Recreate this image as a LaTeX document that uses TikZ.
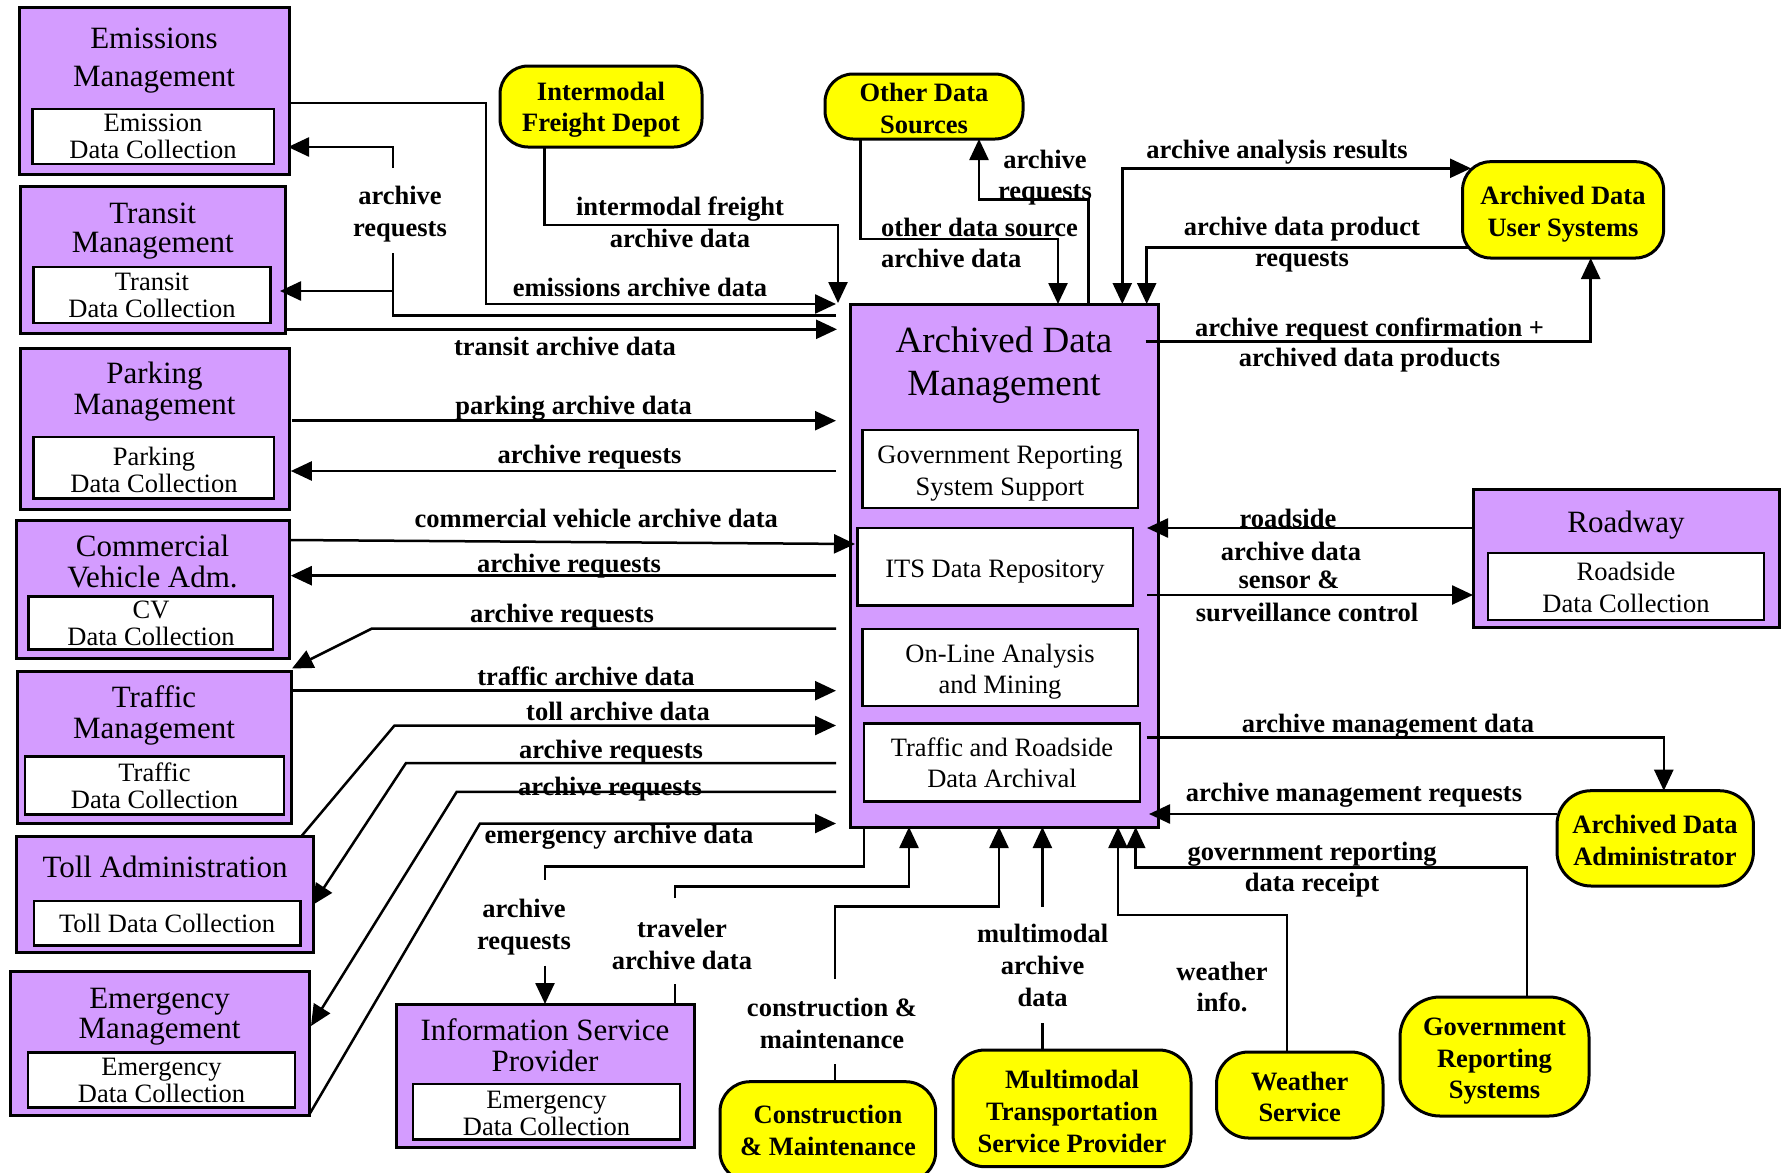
\documentclass[tikz,border=0pt]{standalone}
\usepackage{fontspec}
\setmainfont{Liberation Serif}
\usetikzlibrary{arrows.meta}
\definecolor{boxpurple}{RGB}{212,156,255}
\definecolor{termyellow}{RGB}{255,255,0}

\tikzset{
  pbox/.style={draw, fill=boxpurple, line width=3pt, inner sep=0pt, outer sep=0pt, anchor=north west},
  ibox/.style={draw, fill=white, line width=2.6pt, inner sep=0pt, outer sep=0pt, anchor=north west},
  ybox/.style={draw, fill=termyellow, line width=3pt, inner sep=0pt, outer sep=0pt, anchor=north west, rounded corners=#1},
  ybox/.default=28pt,
  txt/.style 2 args={anchor=north, align=center, inner sep=0pt, font=\fontsize{#1}{#2}\selectfont, yshift={0.7*#2}},
  ttl/.style={txt={31}{#1}},
  ttl/.default=31,
  sub/.style={txt={26.5}{#1}},
  sub/.default=26,
  lbl/.style={anchor=north, align=center, inner sep=0pt, font=\bfseries\fontsize{26.5}{#1}\selectfont, yshift={0.7*#1}},
  lbl/.default=32,
  tip/.style={-{Triangle[length=21pt,width=19pt]}},
  wire/.style={line width=2.5pt},
  flow/.style={wire, tip},
  twoway/.style={wire, {Triangle[length=21pt,width=19pt]}-{Triangle[length=21pt,width=19pt]}},
}

\begin{document}
\begin{tikzpicture}[x=1pt, y=-1pt]
\useasboundingbox (0,0) rectangle (1781,1173);
\clip (0,0) rectangle (1781,1173);
\fill[white] (0,0) rectangle (1781,1173);

% ---------- terminators on the left ----------
\node[pbox, minimum width=270, minimum height=167] (em) at (19,7) {};
\node[ibox, minimum width=241.5, minimum height=55] (emi) at (32.5,109) {};
\node[ttl=38] (emT) at (154,48) {\strut Emissions\\Management};
\node[sub] (emiT) at (153,131.5) {\strut Emission\\Data Collection};

\node[pbox, minimum width=265.5, minimum height=147] (tm) at (20,186) {};
\node[ibox, minimum width=237, minimum height=56] (tmi) at (33.7,267) {};
\node[ttl=29] (tmT) at (152.7,223) {\strut Transit\\Management};
\node[sub] (tmiT) at (152,290.5) {\strut Transit\\Data Collection};

\node[pbox, minimum width=269, minimum height=160.7] (pm) at (20,348.3) {};
\node[ibox, minimum width=240.3, minimum height=61.7] (pmi) at (33.7,437) {};
\node[ttl] (pmT) at (154.5,383) {\strut Parking\\Management};
\node[sub=25.5] (pmiT) at (154,464.5) {\strut Parking\\Data Collection};

\node[pbox, minimum width=273, minimum height=138] (cva) at (16,520.7) {};
\node[ibox, minimum width=244.3, minimum height=52.6] (cvai) at (28.7,596.7) {};
\node[ttl] (cvaT) at (152.5,556) {\strut Commercial\\Vehicle Adm.};
\node[sub] (cvaiT) at (151,618.5) {\strut CV\\Data Collection};

\node[pbox, minimum width=274, minimum height=152.3] (trm) at (17,671) {};
\node[ibox, minimum width=259, minimum height=57.6] (trmi) at (25,756.7) {};
\node[ttl] (trmT) at (154,707) {\strut Traffic\\Management};
\node[sub] (trmiT) at (154.5,780.5) {\strut Traffic\\Data Collection};

\node[pbox, minimum width=296.2, minimum height=116.7] (ta) at (16.8,836) {};
\node[ibox, minimum width=266.5, minimum height=44.7] (tai) at (34,901) {};
\node[ttl] (taT) at (165,877) {\strut Toll Administration};
\node[sub] (taiT) at (167,932.5) {\strut Toll Data Collection};

\node[pbox, minimum width=298.8, minimum height=143.3] (emm) at (10.2,971.7) {};
\node[ibox, minimum width=267, minimum height=55] (emmi) at (28,1052.7) {};
\node[ttl=30] (emmT) at (159.6,1008) {\strut Emergency\\Management};
\node[sub] (emmiT) at (161.5,1075.5) {\strut Emergency\\Data Collection};

\node[pbox, minimum width=297.6, minimum height=143.3] (isp) at (396.4,1004) {};
\node[ibox, minimum width=267, minimum height=55.3] (ispi) at (413,1084) {};
\node[ttl=30] (ispT) at (545,1039) {\strut Information Service\\Provider};
\node[sub=25] (ispiT) at (546.5,1108.5) {\strut Emergency\\Data Collection};

% ---------- central subsystem ----------
\node[pbox, minimum width=308.3, minimum height=523] (adm) at (850,304) {};
\node[txt={37}{43}] (admT) at (1004,352.5) {\strut Archived Data\\Management};
\node[ibox, minimum width=275.3, minimum height=78] (gov) at (862.7,430) {};
\node[sub=32] (govT) at (1000,463.5) {\strut Government Reporting\\System Support};
\node[ibox, minimum width=275.3, minimum height=77.7] (its) at (857.7,528) {};
\node[sub] (itsT) at (995,577.5) {\strut ITS Data Repository};
\node[ibox, minimum width=275.3, minimum height=77] (ola) at (862.7,629) {};
\node[sub=31] (olaT) at (1000,662.5) {\strut On-Line Analysis\\and Mining};
\node[ibox, minimum width=276, minimum height=78] (tra) at (864,723.5) {};
\node[sub=31] (traT) at (1002,756.5) {\strut Traffic and Roadside\\Data Archival};

% ---------- roadway ----------
\node[pbox, minimum width=306, minimum height=137.5] (rw) at (1473,489.5) {};
\node[ibox, minimum width=276, minimum height=67] (rwi) at (1488,553) {};
\node[ttl] (rwT) at (1626,532) {\strut Roadway};
\node[sub=32] (rwiT) at (1626,580.5) {\strut Roadside\\Data Collection};

% ---------- yellow terminators ----------
\node[ybox, minimum width=202, minimum height=81] (ifd) at (500,66) {};
\node[lbl=31] (ifdT) at (601,100.5) {\strut Intermodal\\Freight Depot};
\node[ybox, minimum width=198, minimum height=65] (ods) at (825,74) {};
\node[lbl=32] (odsT) at (924,101.5) {\strut Other Data\\Sources};
\node[ybox, minimum width=201, minimum height=96.3] (adus) at (1462.6,161.7) {};
\node[lbl=31.5] (adusT) at (1563,204.5) {\strut Archived Data\\User Systems};
\node[ybox=34pt, minimum width=196.4, minimum height=95.3] (ada) at (1557,790.7) {};
\node[lbl=31.5] (adaT) at (1655,833.5) {\strut Archived Data\\Administrator};
\node[ybox=30pt, minimum width=215.7, minimum height=100] (cm) at (720,1081.7) {};
\node[lbl=31.5] (cmT) at (828,1123.5) {\strut Construction\\\& Maintenance};
\node[ybox=32pt, minimum width=238, minimum height=116.7] (mtsp) at (953,1050) {};
\node[lbl=31.8] (mtspT) at (1072,1088.5) {\strut Multimodal\\Transportation\\Service Provider};
\node[ybox=32pt, minimum width=166.5, minimum height=86] (ws) at (1216.5,1052) {};
\node[lbl=31] (wsT) at (1299.7,1090) {\strut Weather\\Service};
\node[ybox=40pt, minimum width=189, minimum height=119] (grs) at (1400,997) {};
\node[lbl=31.8] (grsT) at (1494.5,1035) {\strut Government\\Reporting\\Systems};

% ---------- flows at the top left ----------
\draw[flow] (em.east |- 0,103) -| (486,304) -- (836,304);
\draw[flow] (836,315.7) -- (393,315.7) -- (393,291) -- (280,291);
\draw[wire] (393,291) -- (393,253);
\draw[flow] (393,168) -- (393,147) -- (288,147);
\draw[flow] (tm.east |- 0,329.3) -- (837,329.3);
\draw[flow] (ifd.south -| 544.6,0) |- (838,225) -- (838,303);
\draw[flow] (ods.south -| 860.7,0) |- (1058,239) -- (1058,304);
\draw[flow] (1088.3,304) |- (979,199.3) -- (ods.south -| 979,0);

% ---------- flows at the top right ----------
\draw[twoway] (1122.3,304) |- (1471,168.3);
\draw[flow] (1470,247.7) -| (1146.7,304);
\draw[flow] (1145.6,341.7) -| (adus.south -| 1590.7,0);
\draw[flow] (rw.west |- 0,528) -- (1147,528);
\draw[flow] (1147,595) -- (rw.west |- 0,595);
\draw[flow] (1146.7,737.7) -| (ada.north -| 1663.8,0);
\draw[flow] (ada.west |- 0,814) -- (1149,814);

% ---------- flows on the left ----------
\draw[flow] (291.6,420.7) -- (836,420.7);
\draw[flow] (836,471) -- (290.8,471);
\draw[flow] (cva.east |- 0,540) -- (855,544);
\draw[flow] (836,575.7) -- (290.8,575.7);
\draw[flow] (836,628.5) -- (372,628.5) -- (292,668.5);
\draw[flow] (trm.east |- 0,690.7) -- (836,690.7);
\draw[flow] (302,835.5) -- (394.5,725.5) -- (836,725.5);
\draw[flow] (836,763) -- (406,763) -- (312.5,905);
\draw[flow] (836,791.8) -- (456.7,791.8) -- (311,1026);
\draw[flow] (309,1115) -- (480,823.5) -- (836,823.5);

% ---------- flows at the bottom ----------
\draw[wire] (864,827) |- (545,866.7) -- (545,880);
\draw[flow] (545,965.7) -- (isp.north -| 545,0);
\draw[wire] (isp.north -| 675,0) -- (675,984);
\draw[flow] (675,898) |- (909,886.7) -- (909,827);
\draw[wire] (cm.north -| 835,0) -- (835,1064);
\draw[flow] (835,979) |- (999,906.7) -- (999,827);
\draw[wire] (mtsp.north -| 1042.4,0) -- (1042.4,1023);
\draw[flow] (1042.4,906.7) -- (1042.4,827);
\draw[flow] (ws.north -| 1287,0) |- (1118,915) -- (1118,827);
\draw[flow] (grs.north -| 1527,0) |- (1135.7,867.7) -- (1135.7,827);

% ---------- flow labels ----------
\node[lbl] (l01) at (400,204.5) {\strut archive\\requests};
\node[lbl] (l02) at (680,215.5) {\strut intermodal freight\\archive data};
\node[lbl] (l03) at (640,296.5) {\strut emissions archive data};
\node[lbl] (l04) at (565,355.5) {\strut transit archive data};
\node[lbl=30.5, anchor=north west, align=left] (l05) at (881,236.5) {\strut other data source\\archive data};
\node[lbl=31] (l06) at (1045,168) {\strut archive\\requests};
\node[lbl] (l07) at (1277,158.5) {\strut archive analysis results};
\node[lbl=31.5] (l08) at (1302,235) {\strut archive data product\\requests};
\node[lbl=30.5] (l09) at (1369.5,336) {\strut archive request confirmation +\\archived data products};
\node[lbl] (l10) at (1288,527.5) {\strut roadside};
\node[lbl] (l11) at (1291,560.5) {\strut archive data};
\node[lbl] (l12) at (1289,588.5) {\strut sensor \&};
\node[lbl] (l13) at (1307,621.5) {\strut surveillance control};
\node[lbl] (l14) at (573.6,414) {\strut parking archive data};
\node[lbl] (l15) at (589.5,463) {\strut archive requests};
\node[lbl] (l16) at (596.3,527.5) {\strut commercial vehicle archive data};
\node[lbl] (l17) at (569,572) {\strut archive requests};
\node[lbl] (l18) at (562,622) {\strut archive requests};
\node[lbl] (l19) at (586,685.5) {\strut traffic archive data};
\node[lbl] (l20) at (618,720.5) {\strut toll archive data};
\node[lbl] (l21) at (611,758) {\strut archive requests};
\node[lbl] (l22) at (610,795.5) {\strut archive requests};
\node[lbl] (l23) at (619,843.3) {\strut emergency archive data};
\node[lbl] (l24) at (1388,732.5) {\strut archive management data};
\node[lbl] (l25) at (1354,801) {\strut archive management requests};
\node[lbl=31.5] (l26) at (1312,860) {\strut government reporting\\data receipt};
\node[lbl] (l27) at (524,917) {\strut archive\\requests};
\node[lbl] (l28) at (682,937) {\strut traveler\\archive data};
\node[lbl] (l29) at (832,1016.5) {\strut construction \&\\maintenance};
\node[lbl] (l30) at (1042.6,942.5) {\strut multimodal\\archive\\data};
\node[lbl=31.5] (l31) at (1222,980) {\strut weather\\info.};
\end{tikzpicture}
\end{document}
